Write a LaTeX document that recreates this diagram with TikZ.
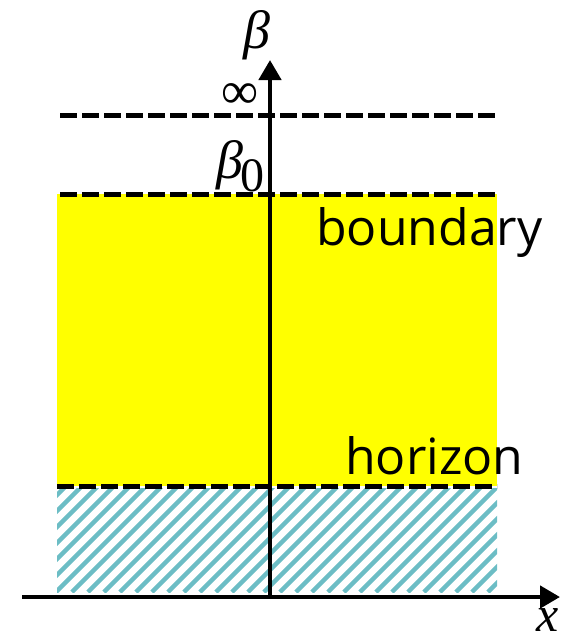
\documentclass[tikz,border=0pt]{standalone}
\usepackage{fontspec}
\setmainfont{Liberation Serif}
\newfontfamily\labfont{Open Sans}
\usetikzlibrary{arrows.meta}
\definecolor{hatchc}{RGB}{108,189,197}
\definecolor{fillyel}{RGB}{255,255,0}
\begin{document}
\begin{tikzpicture}[x=1pt,y=-1pt,
  dashln/.style={line width=5pt,dash pattern=on 17pt off 5pt},
  axisln/.style={line width=4.5pt,-{Triangle[length=20pt,width=22pt]}},
  lab/.style={inner sep=0pt,font=\labfont\fontsize{50}{50}\selectfont,anchor=base west}]
\useasboundingbox (0,0) rectangle (566,643);
% yellow region
\fill[fillyel] (57,194) rectangle (497,486);
% hatched region
\begin{scope}
\clip (57,488) rectangle (497,592);
\foreach \i in {-200,-184,...,520} {
  \draw[hatchc,line width=4.5pt] (\i,592) -- (\i+140,452);
}
\end{scope}
% dashed lines
\coordinate (t1) at (60,115); \coordinate (t2) at (497,115);
\coordinate (b1) at (60,194); \coordinate (b2) at (497,194);
\coordinate (h1) at (57,486); \coordinate (h2) at (497,486);
\draw[dashln] (t1) -- (t2);
\draw[dashln] (b1) -- (b2);
\draw[dashln] (h1) -- (h2);
% axes
\coordinate (xs) at (22,597); \coordinate (xe) at (560,597);
\coordinate (ys) at (270,597); \coordinate (ye) at (270,60);
\draw[axisln] (xs) -- (xe);
\draw[axisln] (ys) -- (ye);
% labels
\node[inner sep=0pt,anchor=base] (beta) at (257,48) {\fontsize{54}{54}\selectfont\itshape β};
\node[inner sep=0pt,anchor=base] (inf) at (240,108) {\fontsize{52}{52}\selectfont ∞};
\node[inner sep=0pt,anchor=base west] (beta0) at (216,178) {\fontsize{54}{54}\selectfont\itshape β\kern-3pt\raisebox{-13pt}{\upshape\fontsize{48}{48}\selectfont 0}};
\node[lab] (bnd) at (316,245) {boundary};
\node[lab] (hor) at (345,474) {horizon};
\node[inner sep=0pt,anchor=base] (xl) at (548,631) {\fontsize{50}{50}\selectfont\itshape x};
\end{tikzpicture}
\end{document}
